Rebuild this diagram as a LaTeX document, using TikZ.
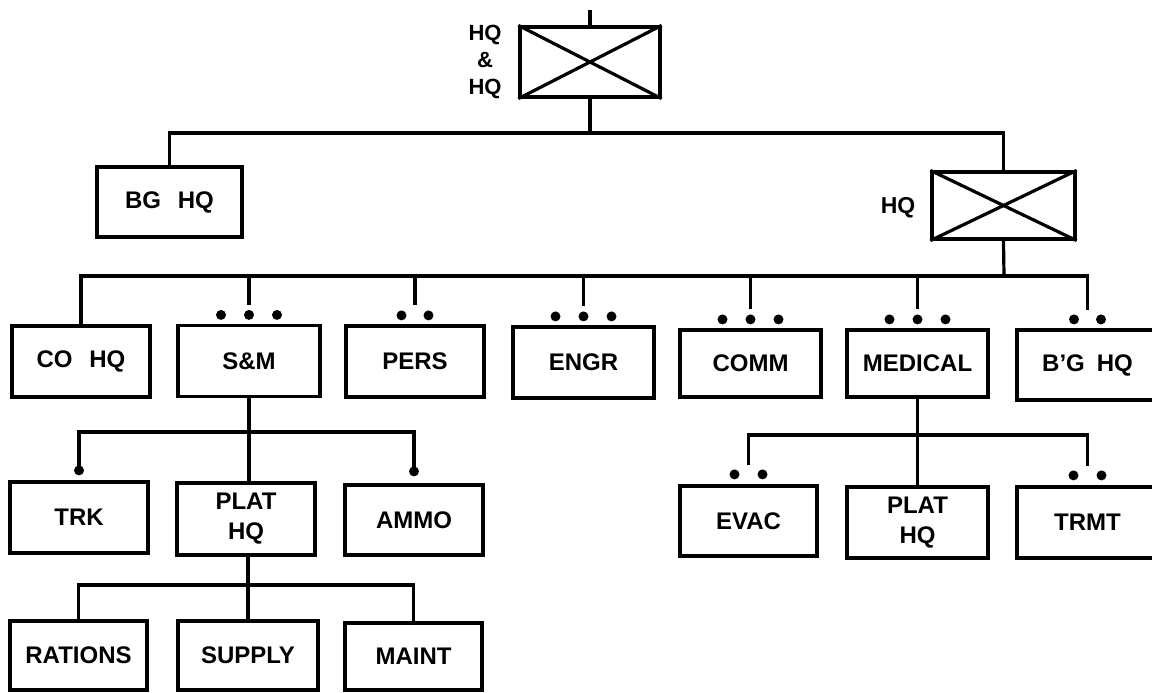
\documentclass[tikz,border=0pt]{standalone}
\usepackage{fontspec}
\setmainfont{Liberation Sans}
\usetikzlibrary{calc}
\begin{document}
\begin{tikzpicture}[x=0.5pt,y=-0.5pt,line width=1.6pt,
  box/.style={draw, rectangle, minimum width=70pt, minimum height=35.5pt,
    inner sep=0pt, align=center, font=\bfseries\fontsize{12}{15}\selectfont},
  lbl/.style={inner sep=0pt, align=center, font=\bfseries\fontsize{11}{13.5}\selectfont},
  rdot/.style={fill=black, draw=none}]
\useasboundingbox[fill=white] (0,0) rectangle (1152,692);

% top echelon
\node[box, minimum width=70pt, minimum height=35pt] (top) at (590,62) {};
\draw (top.north west) -- (top.south east) (top.south west) -- (top.north east);
\node[lbl] (toplbl) at (485,62) {HQ\\\&\\HQ};
\coordinate (topstub) at (590,10);
\draw (topstub) -- (top.north);

% second level
\node[box, minimum width=72.5pt, minimum height=35pt] (bghq) at (169.5,202) {BG\hspace{0.7em}HQ};
\node[box, minimum width=71.5pt, minimum height=33.5pt] (hqx) at (1003.5,205.5) {};
\draw (hqx.north west) -- (hqx.south east) (hqx.south west) -- (hqx.north east);
\node[lbl, font=\bfseries\fontsize{11.5}{14}\selectfont] (hqlbl) at (898,208) {HQ};
\coordinate (bus1) at (590,133);
\draw (top.south) -- (bus1);
\draw (bghq.north) |- (bus1) -| (hqx.north);

% third level
\node[box, minimum width=69pt] (cohq) at (81,361.5) {CO\hspace{0.7em}HQ};
\node[box, minimum width=71pt] (sm) at (249,361) {S\&M};
\node[box, minimum width=69pt] (pers) at (415,361.5) {PERS};
\node[box, minimum width=70.5pt] (engr) at (583.5,362.5) {ENGR};
\node[box, minimum width=70.5pt, minimum height=33.5pt] (comm) at (750.5,363.5) {COMM};
\node[box, minimum width=70.5pt, minimum height=33.5pt] (med) at (917.5,363.5) {MEDICAL};
\node[box, minimum width=70.5pt, minimum height=35pt] (bgq) at (1087.5,365) {B'G\hspace{0.5em}HQ};

\coordinate (bus2) at (1004,276);
\draw (hqx.south) -- (bus2);
\coordinate (smend) at ($(sm.north)+(0,-19)$);
\coordinate (persend) at ($(pers.north)+(0,-19)$);
\coordinate (engrend) at ($(engr.north)+(0,-19)$);
\coordinate (commend) at ($(comm.north)+(0,-19)$);
\coordinate (medend) at ($(med.north)+(0,-19)$);
\coordinate (bgqend) at ($(bgq.north)+(0,-18)$);
\draw (cohq.north) -- (cohq.north |- bus2) -- (bgqend |- bus2) -- (bgqend);
\draw (sm.north |- bus2) -- (smend);
\draw (pers.north |- bus2) -- (persend);
\draw (engr.north |- bus2) -- (engrend);
\draw (comm.north |- bus2) -- (commend);
\draw (med.north |- bus2) -- (medend);

% rank dots, third level
\foreach \n in {sm,engr,comm,med}{
  \foreach \dx in {-28,0,28}{
    \fill[rdot] ($(\n.north)+(\dx,-9)$) circle[radius=2.5pt];
  }
}
\foreach \n in {pers,bgq}{
  \foreach \dx in {-13.5,13.5}{
    \fill[rdot] ($(\n.north)+(\dx,-9)$) circle[radius=2.5pt];
  }
}

% S&M subtree
\node[box, minimum width=69pt] (trk) at (79,517.5) {TRK};
\node[box, minimum width=69pt, minimum height=36pt] (plat) at (246,519) {PLAT\\HQ};
\node[box, minimum width=69pt, minimum height=35pt] (ammo) at (414,520) {AMMO};
\coordinate (bus3) at (248,432);
\coordinate (trkend) at ($(trk.north)+(0,-10)$);
\coordinate (ammoend) at ($(ammo.north)+(0,-12)$);
\draw (sm.south) -- (sm.south |- plat.north);
\draw (trkend) |- (bus3) -| (ammoend);
\fill[rdot] (trkend) circle[radius=2.5pt];
\fill[rdot] (ammoend) circle[radius=2.5pt];

% PLAT HQ subtree
\node[box, minimum width=68.5pt, minimum height=34.5pt] (rat) at (78.5,655.5) {RATIONS};
\node[box, minimum width=70pt, minimum height=34.5pt] (sup) at (248,655.5) {SUPPLY};
\node[box, minimum width=68.5pt, minimum height=33.5pt] (maint) at (413.5,656.5) {MAINT};
\coordinate (bus4) at (248,585);
\draw (plat.south -| bus4) -- (sup.north -| bus4);
\draw (rat.north) |- (bus4) -| (maint.north);

% MEDICAL subtree
\node[box, minimum width=68.5pt, minimum height=35pt] (evac) at (748.5,521) {EVAC};
\node[box, minimum width=70.5pt] (plat2) at (917.5,522.5) {PLAT\\HQ};
\node[box, minimum width=70.5pt] (trmt) at (1087.5,522.5) {TRMT};
\coordinate (bus5) at (917.5,435);
\coordinate (evacend) at ($(evac.north)+(0,-19)$);
\coordinate (trmtend) at ($(trmt.north)+(0,-19)$);
\draw (med.south) -- (plat2.north);
\draw (evacend) |- (bus5) -| (trmtend);
\foreach \n in {evac,trmt}{
  \foreach \dx in {-14,14}{
    \fill[rdot] ($(\n.north)+(\dx,-10)$) circle[radius=2.5pt];
  }
}
\end{tikzpicture}
\end{document}
